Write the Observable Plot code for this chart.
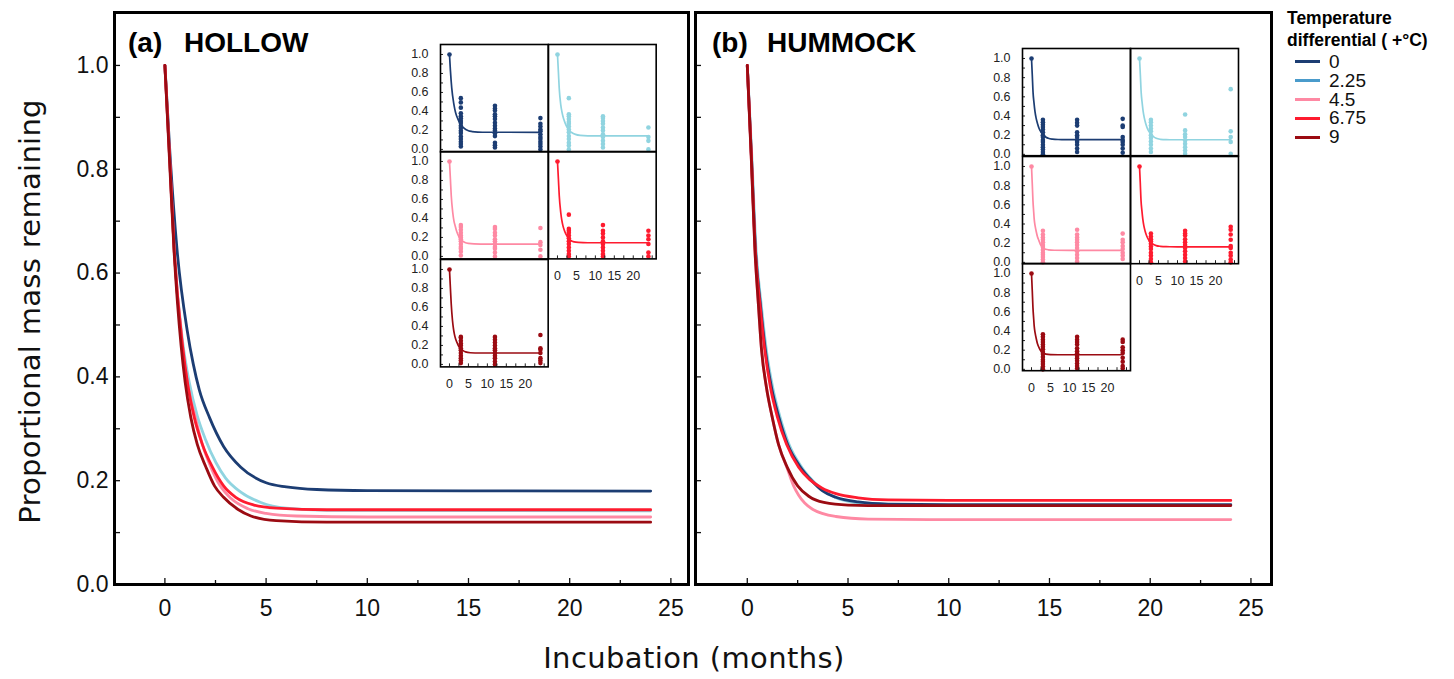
<!DOCTYPE html>
<html><head><meta charset="utf-8">
<script src="https://cdn.jsdelivr.net/npm/d3@7"></script>
<script src="https://cdn.jsdelivr.net/npm/@observablehq/plot@0.6"></script>
<style>
body{margin:0;background:#fff;}
#root{position:relative;width:1454px;height:679px;overflow:hidden;font-family:"Liberation Sans",Arial,sans-serif;color:#111;}
.abs{position:absolute;white-space:nowrap;}
</style></head>
<body><div id="root"></div>
<script>
// ---------- data ----------
const treatments = ["0", "2.25", "4.5", "6.75", "9"];
const curveColors = ["#1c3d73", "#90d4e0", "#fe89a3", "#fe1b2f", "#9b0b12"];
const legendColors = ["#1c3d73", "#4a9bcb", "#fe89a3", "#fe1b2f", "#9b0b12"];
const sampleMonths = [0, 3, 12, 24];
const xMajorTicks = [0, 5, 10, 15, 20, 25];
const xMinorTicks = [2.5, 7.5, 12.5, 17.5, 22.5];
const yTicks = [0, 0.1, 0.2, 0.3, 0.4, 0.5, 0.6, 0.7, 0.8, 0.9, 1.0];
const insetXTicks = [0, 2.5, 5, 7.5, 10, 12.5, 15, 17.5, 20, 22.5, 25];
const insetXLabels = [0, 5, 10, 15, 20];

// fitted curves: [month, proportion remaining]
const curveHollow0   = [[0,1],[0.25,0.83],[0.6,0.645],[1.1,0.49],[1.4,0.425],[1.7,0.375],[2.2,0.322],[2.9,0.266],[3.75,0.226],[5,0.196],[6,0.188],[7.5,0.183],[10,0.181],[24,0.18]];
const curveHollow225 = [[0,1],[0.25,0.81],[0.46,0.644],[0.87,0.47],[1.2,0.39],[1.6,0.325],[2,0.28],[2.52,0.235],[3,0.205],[3.75,0.178],[4.74,0.158],[6,0.147],[8,0.143],[24,0.142]];
const curveHollow45  = [[0,1],[0.25,0.81],[0.46,0.644],[0.87,0.46],[1.15,0.38],[1.5,0.322],[1.85,0.27],[2.27,0.226],[2.7,0.192],[3.26,0.166],[4.1,0.146],[5,0.137],[6.5,0.132],[10,0.13],[24,0.13]];
const curveHollow675 = [[0,1],[0.25,0.81],[0.46,0.644],[0.87,0.46],[1.15,0.38],[1.45,0.322],[1.85,0.27],[2.35,0.226],[2.9,0.19],[3.5,0.168],[4.4,0.153],[5.5,0.147],[8,0.144],[24,0.144]];
const curveHollow9   = [[0,1],[0.25,0.8],[0.45,0.644],[0.8,0.46],[1.0,0.39],[1.28,0.322],[1.6,0.27],[2.03,0.226],[2.45,0.19],[2.9,0.168],[3.6,0.145],[4.25,0.132],[5.5,0.123],[8,0.12],[24,0.12]];

const curveHummock0   = [[0,1],[0.2,0.83],[0.41,0.644],[0.65,0.54],[0.9,0.451],[1.2,0.38],[1.57,0.322],[2,0.27],[2.64,0.226],[3.2,0.2],[3.72,0.181],[4.4,0.168],[5.5,0.159],[7,0.155],[10,0.154],[24,0.154]];
const curveHummock225 = [[0,1],[0.22,0.83],[0.44,0.644],[0.69,0.54],[0.95,0.451],[1.26,0.38],[1.63,0.322],[2.07,0.27],[2.7,0.226],[3.25,0.2],[3.75,0.182],[4.4,0.167],[5.5,0.157],[7,0.153],[10,0.152],[24,0.152]];
const curveHummock45  = [[0,1],[0.2,0.82],[0.38,0.644],[0.55,0.54],[0.71,0.451],[0.95,0.38],[1.24,0.322],[1.55,0.27],[1.98,0.224],[2.3,0.19],[2.55,0.172],[3.24,0.145],[4.4,0.131],[6,0.126],[10,0.125],[24,0.125]];
const curveHummock675 = [[0,1],[0.2,0.83],[0.4,0.644],[0.63,0.54],[0.87,0.451],[1.15,0.38],[1.5,0.322],[1.95,0.27],[2.55,0.226],[3.1,0.202],[3.7,0.186],[4.4,0.175],[5.5,0.167],[7,0.163],[10,0.162],[24,0.162]];
const curveHummock9   = [[0,1],[0.2,0.82],[0.38,0.644],[0.55,0.54],[0.71,0.451],[0.95,0.38],[1.24,0.322],[1.55,0.27],[1.98,0.226],[2.5,0.19],[3.05,0.17],[3.8,0.158],[5,0.153],[7,0.152],[24,0.152]];

// observations at 3, 12 and 24 months (plus 1.0 at month 0)
const obsHollow0   = [[0.54,0.495,0.44,0.38,0.35,0.326,0.30,0.277,0.25,0.225,0.196,0.172,0.137,0.109,0.08,0.056,0.03],[0.46,0.43,0.41,0.37,0.35,0.32,0.28,0.25,0.22,0.2,0.17,0.14,0.07,0.045,0.02],[0.33,0.27,0.24,0.21,0.19,0.16,0.13,0.11,0.08,0.056,0.03,0.0]];
const obsHollow225 = [[0.54,0.37,0.35,0.32,0.29,0.27,0.24,0.21,0.18,0.14,0.11,0.07,0.04,0.0],[0.35,0.33,0.30,0.27,0.23,0.2,0.16,0.13,0.09,0.056,0.02],[0.23,0.13,0.09,0.0]];
const obsHollow45  = [[0.33,0.31,0.28,0.25,0.22,0.2,0.18,0.16,0.13,0.1,0.08,0.05,0.01],[0.31,0.29,0.25,0.22,0.18,0.16,0.13,0.1,0.08,0.04,0.0],[0.3,0.15,0.12,0.07,0.0]];
const obsHollow675 = [[0.44,0.29,0.27,0.25,0.22,0.19,0.16,0.13,0.095,0.06,0.025,0.0],[0.33,0.27,0.24,0.2,0.16,0.13,0.095,0.06,0.025,0.0],[0.27,0.22,0.18,0.13,0.04,0.0]];
const obsHollow9   = [[0.29,0.28,0.25,0.22,0.2,0.17,0.15,0.12,0.09,0.066,0.04,0.014],[0.29,0.26,0.23,0.2,0.17,0.15,0.12,0.09,0.066,0.03,0.0],[0.31,0.17,0.155,0.12,0.066,0.04,0.014]];

const obsHummock0   = [[0.36,0.335,0.31,0.285,0.26,0.23,0.2,0.18,0.15,0.13,0.1,0.075,0.05,0.025,0.0],[0.36,0.33,0.3,0.23,0.2,0.18,0.15,0.13,0.1,0.06,0.025],[0.37,0.3,0.285,0.18,0.15,0.13,0.1,0.06,0.017]];
const obsHummock225 = [[0.36,0.335,0.3,0.27,0.24,0.2,0.17,0.135,0.1,0.06,0.025],[0.415,0.25,0.21,0.18,0.145,0.11,0.075,0.04,0.007],[0.68,0.24,0.18,0.13,0.007]];
const obsHummock45  = [[0.33,0.29,0.26,0.235,0.21,0.18,0.16,0.13,0.1,0.08,0.055,0.03,0.0],[0.34,0.29,0.26,0.235,0.21,0.18,0.15,0.115,0.08,0.045,0.01],[0.3,0.235,0.21,0.17,0.14,0.1,0.07,0.035]];
const obsHummock675 = [[0.3,0.27,0.24,0.22,0.195,0.166,0.14,0.1,0.07,0.035,0.0],[0.33,0.3,0.28,0.24,0.21,0.18,0.15,0.115,0.08,0.045,0.01],[0.37,0.34,0.29,0.235,0.17,0.15,0.1,0.07,0.03,0.0]];
const obsHummock9   = [[0.365,0.34,0.31,0.285,0.26,0.235,0.21,0.18,0.16,0.13,0.1,0.08,0.055,0.03,0.0],[0.34,0.31,0.285,0.26,0.22,0.19,0.165,0.14,0.115,0.09,0.06,0.035,0.01],[0.31,0.285,0.23,0.2,0.17,0.12,0.08,0.035,0.01]];

// ---------- build ----------
const root = document.getElementById("root");
const FONT = "'Liberation Sans', Arial, sans-serif";
function place(node, left, top) {
  const d = document.createElement("div");
  d.className = "abs";
  d.style.left = left + "px"; d.style.top = top + "px";
  d.appendChild(node); root.appendChild(d); return d;
}
function html(text, left, top, style) {
  const d = document.createElement("div");
  d.className = "abs"; d.textContent = text;
  d.style.left = left + "px"; d.style.top = top + "px";
  Object.assign(d.style, style || {});
  root.appendChild(d); return d;
}
const fmt1 = d3.format(".1f");
const evenLabel = d => (Math.round(d * 10) % 2 === 0 ? fmt1(d) : "");

function mainPlot(curves, {width, marginLeft, marginRight, xDomain, showYLabels}) {
  const drawOrder = [1, 0, 2, 3, 4];
  const marks = drawOrder.map(i => Plot.line(curves[i], {x: d => d[0], y: d => d[1], stroke: curveColors[i], strokeWidth: 2.8, curve: "monotone-x"}));
  marks.push(
    Plot.axisX(xMajorTicks, {tickSize: -6, tickPadding: 21, fontSize: 23, tickFormat: d => String(d), label: null, color: "#111", strokeWidth: 1.3}),
    Plot.axisX(xMinorTicks, {tickSize: -4, tickFormat: () => "", label: null, color: "#111", strokeWidth: 1.3}),
    Plot.axisY(yTicks, {tickSize: -6, tickPadding: 12, fontSize: 23, tickFormat: showYLabels ? evenLabel : () => "", label: null, color: "#111", strokeWidth: 1.3}),
    Plot.frame({stroke: "#000", strokeWidth: 3})
  );
  return Plot.plot({
    width, height: 679, marginTop: 12, marginBottom: 95, marginLeft, marginRight,
    x: {domain: xDomain, label: null, axis: null},
    y: {domain: [0, 1.102], label: null, axis: null},
    style: {background: "transparent", overflow: "visible", fontFamily: FONT, color: "#111"},
    marks
  });
}

function insetPlot(curve, obs, color, {w, h, yDomain, showY, showX}) {
  const pts = [{t: sampleMonths[0], v: 1}];
  obs.forEach((vals, k) => vals.forEach(v => pts.push({t: sampleMonths[k + 1], v})));
  const marks = [
    Plot.line(curve, {x: d => d[0], y: d => d[1], stroke: color, strokeWidth: 1.7, curve: "monotone-x"}),
    Plot.dot(pts, {x: "t", y: "v", r: 2.3, fill: color, stroke: null})
  ];
  if (showY) marks.push(Plot.axisY(yTicks, {tickSize: -3, tickPadding: 15, fontSize: 12.5, tickFormat: evenLabel, label: null, color: "#222"}));
  if (showX) marks.push(Plot.axisX(insetXTicks, {tickSize: -3, tickPadding: 15, fontSize: 12.5, tickFormat: d => insetXLabels.includes(d) ? String(d) : "", label: null, color: "#222"}));
  marks.push(Plot.frame({stroke: "#000", strokeWidth: 1.6}));
  return Plot.plot({
    width: w + 44, height: h + 30, marginLeft: 40, marginRight: 4, marginTop: 4, marginBottom: 26,
    x: {domain: [-2.37, 26.05], label: null, axis: null},
    y: {domain: yDomain, label: null, axis: null},
    style: {background: "transparent", overflow: "visible", fontFamily: FONT, color: "#222"},
    marks
  });
}

const hollowCurves = [curveHollow0, curveHollow225, curveHollow45, curveHollow675, curveHollow9];
const hummockCurves = [curveHummock0, curveHummock225, curveHummock45, curveHummock675, curveHummock9];
const hollowObs = [obsHollow0, obsHollow225, obsHollow45, obsHollow675, obsHollow9];
const hummockObs = [obsHummock0, obsHummock225, obsHummock45, obsHummock675, obsHummock9];

place(mainPlot(hollowCurves, {width: 700, marginLeft: 114, marginRight: 12, xDomain: [-2.49, 25.87], showYLabels: true}), 0, 0);
place(mainPlot(hummockCurves, {width: 606, marginLeft: 10, marginRight: 20, xDomain: [-2.57, 26.02], showYLabels: false}), 685, 0);

// inset grid: treatment index -> [col,row]
const cellPos = [[0,0],[1,0],[0,1],[1,1],[0,2]];
function insets(curves, obs, x0, y0, w, h, yDomain) {
  cellPos.forEach(([c, r], i) => {
    const showY = c === 0;
    const showX = (c === 0 && r === 2) || (c === 1 && r === 1);
    const p = insetPlot(curves[i], obs[i], curveColors[i], {w, h, yDomain, showY, showX});
    place(p, x0 + c * w - 40, y0 + r * h - 4);
  });
}
insets(hollowCurves, hollowObs, 440, 44, 107.7, 107.4, [-0.026, 1.105]);
insets(hummockCurves, hummockObs, 1022, 48.3, 108, 107.2, [-0.014, 1.104]);

// panel titles
const titleStyle = {fontFamily: FONT, fontWeight: "bold", fontSize: "28px", lineHeight: "28px", color: "#000"};
html("(a)", 128, 29, titleStyle);
html("HOLLOW", 184, 29, titleStyle);
html("(b)", 712, 29, titleStyle);
html("HUMMOCK", 767, 29, titleStyle);

// axis titles
html("Incubation (months)", 494, 643.5, {width: "400px", textAlign: "center", fontFamily: "'DejaVu Sans', sans-serif", fontSize: "29px", lineHeight: "29px", color: "#111", letterSpacing: "0.4px"});
html("Proportional mass remaining", -220, 296.5, {width: "500px", textAlign: "center", fontFamily: "'DejaVu Sans', sans-serif", fontSize: "29px", lineHeight: "29px", color: "#111", transform: "rotate(-90deg)", transformOrigin: "50% 50%", letterSpacing: "0.3px"});

// legend
html("Temperature", 1287, 7, {fontFamily: FONT, fontWeight: "bold", fontSize: "17.5px", lineHeight: "22px", color: "#000"});
html("differential ( +°C)", 1287, 29, {fontFamily: FONT, fontWeight: "bold", fontSize: "17.5px", lineHeight: "22px", color: "#000"});
treatments.forEach((t, i) => {
  const yc = 61.7 + i * 18.9;
  const ln = document.createElement("div");
  ln.className = "abs";
  Object.assign(ln.style, {left: "1295px", top: (yc - 1.5) + "px", width: "25px", height: "3px", background: legendColors[i]});
  root.appendChild(ln);
  html(t, 1329, yc - 10, {fontFamily: FONT, fontSize: "19px", lineHeight: "20px", color: "#111"});
});
</script>
</body></html>
